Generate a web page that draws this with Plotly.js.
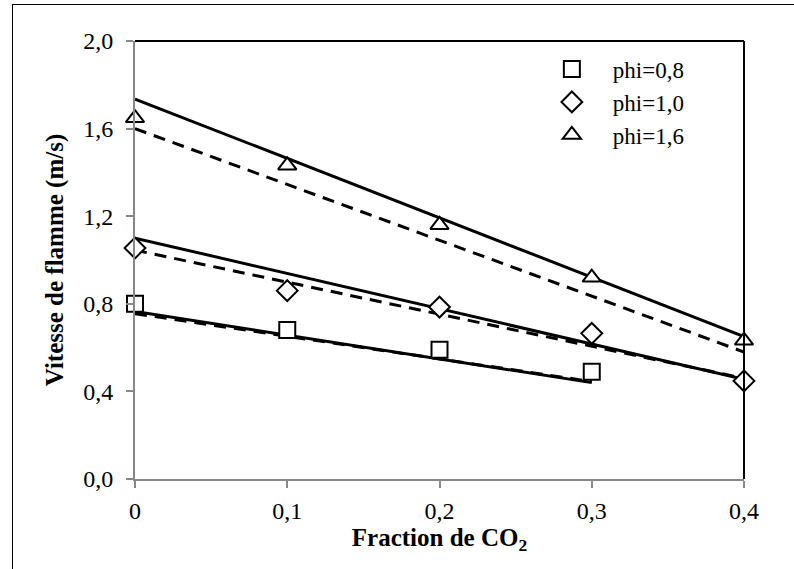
<!DOCTYPE html>
<html>
<head>
<meta charset="utf-8">
<script src="https://cdn.plot.ly/plotly-3.0.1.min.js"></script>
<style>
  html, body { margin: 0; padding: 0; background: #fff; }
  #wrap { position: relative; width: 794px; height: 569px; overflow: hidden; }
  #chart { position: absolute; left: 0; top: 0; width: 794px; height: 569px; }
  #frame { position: absolute; left: 12px; top: 4px; width: 800px; height: 600px;
           border-left: 1.5px solid #000; border-top: 1.5px solid #000; pointer-events: none; }
</style>
</head>
<body>
<div id="wrap">
  <div id="chart"></div>
  <div id="frame"></div>
</div>
<script>
// ---- data ----
const co2Fraction = [0, 0.1, 0.2, 0.3, 0.4];
const co2FractionPhi08 = [0, 0.1, 0.2, 0.3];
const seriesNames = ['phi=0,8', 'phi=1,0', 'phi=1,6'];

const measPhi08 = [0.80, 0.68, 0.59, 0.49];
const measPhi10 = [1.055, 0.86, 0.785, 0.665, 0.448];
const measPhi16 = [1.648, 1.432, 1.16, 0.92, 0.632];

// model lines (straight): endpoints
const lineX = [0, 0.4];
const lineXPhi08 = [0, 0.3];
const solidPhi08 = [0.765, 0.44];
const solidPhi10 = [1.10, 0.455];
const solidPhi16 = [1.735, 0.65];
const dashPhi08 = [0.755, 0.445];
const dashPhi10 = [1.045, 0.46];
const dashPhi16 = [1.60, 0.58];

const xTickVals = [0, 0.1, 0.2, 0.3, 0.4];
const xTickText = ['0', '0,1', '0,2', '0,3', '0,4'];
const yTickVals = [0, 0.4, 0.8, 1.2, 1.6, 2.0];
const yTickText = ['0,0', '0,4', '0,8', '1,2', '1,6', '2,0'];

// ---- traces ----
function lineTrace(x, y, dash) {
  return { x: x, y: y, mode: 'lines', type: 'scatter', showlegend: false, hoverinfo: 'skip',
           line: { color: '#000', width: 3, dash: dash } };
}
function markerTrace(x, y, name, symbol) {
  return { x: x, y: y, mode: 'markers', type: 'scatter', name: name, cliponaxis: false,
           marker: { symbol: symbol, size: 16, color: '#fff', line: { color: '#000', width: 2 } } };
}

const traces = [
  lineTrace(lineXPhi08, dashPhi08, '12px,8px'),
  lineTrace(lineX, dashPhi10, '12px,8px'),
  lineTrace(lineX, dashPhi16, '12px,8px'),
  lineTrace(lineXPhi08, solidPhi08, 'solid'),
  lineTrace(lineX, solidPhi10, 'solid'),
  lineTrace(lineX, solidPhi16, 'solid'),
  markerTrace(co2FractionPhi08, measPhi08, seriesNames[0], 'square'),
  markerTrace(co2Fraction, measPhi10, seriesNames[1], 'diamond'),
  markerTrace(co2Fraction, measPhi16, seriesNames[2], 'triangle-up')
];

const serif = "'Liberation Serif', 'Times New Roman', serif";

const layout = {
  width: 794, height: 569,
  margin: { l: 135, r: 50, t: 41, b: 90 },
  paper_bgcolor: '#fff', plot_bgcolor: '#fff',
  font: { family: serif, color: '#000', size: 24 },
  showlegend: true,
  legend: {
    x: 0.65, y: 0.985, xanchor: 'left', yanchor: 'top',
    itemwidth: 72,
    bgcolor: 'rgba(0,0,0,0)', borderwidth: 0,
    font: { family: serif, size: 23, color: '#000' }
  },
  xaxis: {
    range: [0, 0.4], tickvals: xTickVals, ticktext: xTickText,
    showgrid: false, zeroline: false, showline: true, linecolor: '#878787', linewidth: 2,
    ticks: 'outside', ticklen: 7, tickwidth: 2, tickcolor: '#878787',
    ticklabelstandoff: 2,
    tickfont: { family: serif, size: 24, color: '#000' },
    title: { text: '<b>Fraction de CO<sub>2</sub></b>', font: { family: serif, size: 25, color: '#000' }, standoff: 2 }
  },
  yaxis: {
    range: [0, 2], tickvals: yTickVals, ticktext: yTickText,
    showgrid: false, zeroline: false, showline: true, linecolor: '#878787', linewidth: 2,
    ticks: 'outside', ticklen: 7, tickwidth: 2, tickcolor: '#878787',
    ticklabelstandoff: 8,
    tickfont: { family: serif, size: 24, color: '#000' },
    title: { text: '<b>Vitesse de flamme (m/s)</b>', font: { family: serif, size: 25, color: '#000' }, standoff: 12 }
  },
  shapes: [
    { type: 'line', xref: 'paper', yref: 'paper', x0: 0, x1: 1, y0: 1, y1: 1, line: { color: '#000', width: 2 } },
    { type: 'line', xref: 'paper', yref: 'paper', x0: 1, x1: 1, y0: 0, y1: 1, line: { color: '#000', width: 2 } }
  ]
};

Plotly.newPlot('chart', traces, layout, { displayModeBar: false, staticPlot: true });
</script>
</body>
</html>
